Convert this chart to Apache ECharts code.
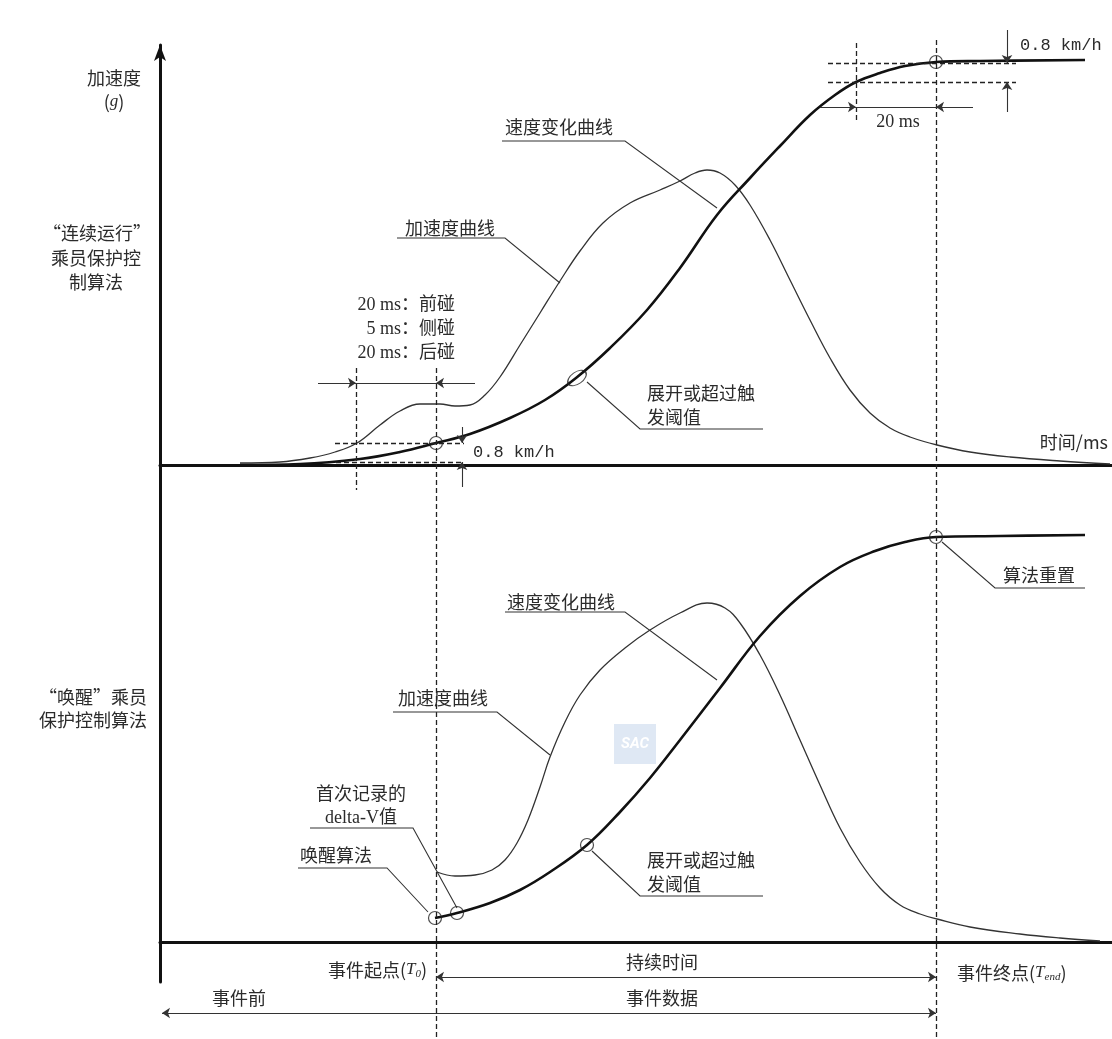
<!DOCTYPE html>
<html>
<head>
<meta charset="utf-8">
<script src="https://cdn.jsdelivr.net/npm/echarts@6/dist/echarts.min.js"></script>
<style>
html, body { margin: 0; padding: 0; background: #fff; }
#main { width: 1112px; height: 1039px; }
</style>
</head>
<body>
<div id="main"></div>
<script>
// 时间 (ms)
const T0 = 69
const TEND = 194
const PRE = 20

// 上图：“连续运行”乘员保护控制算法
const topAccTime = [20, 30, 37.5, 43.75, 49.25, 55, 60, 65, 70, 73.75, 77.5, 81.25, 85, 90, 95, 100, 105, 110.75, 117.5, 125, 130, 133.75, 136.75, 140, 143.75, 147.5, 152.5, 157.5, 162.5, 167.5, 172.5, 177.5, 182.5, 187.5, 194.25, 202.5, 212.5, 225, 237.5]
const topAccVal = [0.5, 0.75, 1.75, 3.25, 5.5, 10, 13.5, 15.25, 15.25, 14.75, 15, 17.5, 22, 30, 38, 46, 53.5, 60.5, 65.5, 68.75, 71, 73, 73.75, 73, 70, 65, 56.25, 46.25, 36.25, 26.75, 18.75, 13, 9.25, 7, 5, 3.25, 2, 1, 0.25]
const topVelTime = [20, 35, 50, 60, 69, 77.5, 87.5, 96.25, 104, 112.5, 121.75, 130, 139.25, 147.5, 155, 162.5, 168.75, 174, 180, 186.25, 194, 205, 231.25]
const topVelVal = [0, 0.25, 1.5, 3.25, 5.5, 7.75, 11.75, 16.25, 21.75, 29.25, 38.75, 49.25, 62.5, 71.75, 79.75, 87.5, 92.5, 95.75, 98, 99.75, 100.75, 101, 101.25]

// 下图：“唤醒”乘员保护控制算法
const botAccTime = [69.25, 73.75, 78.75, 83, 86.25, 89.25, 92, 95, 97.5, 101.25, 105, 110, 116.25, 122.5, 130, 136.75, 141.25, 145, 150, 155, 160, 165, 170, 175, 180, 185, 190, 194.25, 202.5, 215, 225, 235]
const botAccVal = [17.5, 16.5, 16.75, 18, 20.5, 24.75, 30.5, 38.75, 46.25, 55, 61.75, 68, 73.5, 78, 82.25, 84.75, 83.5, 79.75, 71.75, 61.75, 50.5, 39.25, 28.5, 20, 13.5, 9.25, 7, 5.75, 3.75, 2, 1, 0.25]
const botVelTime = [68.75, 74.25, 82.5, 90, 97.5, 106.75, 115, 122.5, 130, 140, 150, 160, 170, 178.75, 186.25, 194, 210, 231.25]
const botVelVal = [6, 7.25, 9.75, 13, 17.5, 24.25, 32.5, 41, 50.5, 63.5, 76.5, 86.5, 93.75, 97.75, 100, 101.25, 101.5, 101.75]

// 标记点 (时间, 值)
const topMarks = [[T0, 5.5], [TEND, 100.75]]
const topEllipse = [[104.25, 21.75]]
const botMarks = [[68.75, 6], [74.25, 7.25], [106.75, 24.25], [TEND, 101.25]]

const zip = (a, b) => a.map((t, i) => [t, b[i]])

const ink = '#222'
const txtColor = '#2b2b2b'
const cjk = '"Noto Sans CJK SC", "Noto Sans", sans-serif'
const serif = '"Liberation Serif", "Noto Sans CJK SC", serif'
const mono = '"Liberation Mono", "DejaVu Sans Mono", monospace'

function seg(a, b) {
  return { coords: [a, b] }
}

function lines(grid, data, style, extra) {
  return Object.assign({
    type: 'lines',
    coordinateSystem: 'cartesian2d',
    xAxisIndex: grid,
    yAxisIndex: grid,
    clip: false,
    silent: true,
    z: 5,
    symbol: 'none',
    lineStyle: style,
    data: data
  }, extra || {})
}

const dashed = { color: ink, width: 1.3, type: [5, 3], opacity: 1 }
const thin = { color: '#333', width: 1.1, opacity: 1 }
const arrowOne = { symbol: ['none', 'arrow'], symbolSize: 8 }
const arrowTwo = { symbol: ['arrow', 'arrow'], symbolSize: 8 }

function txt(text, x, y, align, extra) {
  return {
    type: 'text',
    x: x,
    y: y,
    z: 20,
    style: Object.assign({
      text: text,
      fill: txtColor,
      fontSize: 18,
      fontFamily: cjk,
      textAlign: align || 'left',
      textVerticalAlign: 'middle'
    }, extra || {})
  }
}

const subRich = {
  a: { fontSize: 18, fontFamily: cjk, fill: txtColor },
  i: { fontSize: 17, fontFamily: serif, fontStyle: 'italic', fill: txtColor },
  s: { fontSize: 11, fontFamily: serif, fontStyle: 'italic', fill: txtColor, verticalAlign: 'bottom', padding: [8, 0, 0, 0] }
}

const myChart = echarts.init(document.getElementById('main'), null, { renderer: 'canvas' })

const axisX = (g) => ({
  gridIndex: g, type: 'value', min: 0, max: 238,
  axisLine: { lineStyle: { color: '#111', width: 3 } },
  axisTick: { show: false }, axisLabel: { show: false }, splitLine: { show: false }
})

const options = {
  backgroundColor: '#fff',
  animation: false,
  grid: [
    { left: 160, right: 0, top: 45, height: 420 },
    { left: 160, right: 0, top: 462, height: 520 }
  ],
  xAxis: [axisX(0), axisX(1)],
  yAxis: [
    {
      gridIndex: 0, type: 'value', min: 0, max: 105,
      axisLine: { show: true, symbol: ['none', 'arrow'], symbolSize: [9, 16], lineStyle: { color: '#111', width: 3 } },
      axisTick: { show: false }, axisLabel: { show: false }, splitLine: { show: false }
    },
    {
      gridIndex: 1, type: 'value', min: -10, max: 120,
      axisLine: { show: true, lineStyle: { color: '#111', width: 3 } },
      axisTick: { show: false }, axisLabel: { show: false }, splitLine: { show: false }
    }
  ],
  series: [
    // 曲线
    { type: 'line', xAxisIndex: 0, yAxisIndex: 0, data: zip(topAccTime, topAccVal), smooth: 0.4, showSymbol: false, lineStyle: { color: '#333', width: 1.3 }, z: 3 },
    { type: 'line', xAxisIndex: 0, yAxisIndex: 0, data: zip(topVelTime, topVelVal), smooth: 0.4, showSymbol: false, lineStyle: { color: '#111', width: 2.6 }, z: 4 },
    { type: 'line', xAxisIndex: 1, yAxisIndex: 1, data: zip(botAccTime, botAccVal), smooth: 0.4, showSymbol: false, lineStyle: { color: '#333', width: 1.3 }, z: 3 },
    { type: 'line', xAxisIndex: 1, yAxisIndex: 1, data: zip(botVelTime, botVelVal), smooth: 0.4, showSymbol: false, lineStyle: { color: '#111', width: 2.6 }, z: 4 },

    // 虚线
    lines(0, [
      seg([T0 - PRE, 24.25], [T0 - PRE, -6.25]),
      seg([TEND - PRE, 105.5], [TEND - PRE, 86.25]),
      seg([43.75, 5.5], [76, 5.5]),
      seg([44, 0.75], [76, 0.75]),
      seg([167, 100.5], [214, 100.5]),
      seg([167, 95.75], [214, 95.75])
    ], dashed),
    lines(1, [
      seg([T0, 143.5], [T0, -24.25]),
      seg([TEND, 225.5], [TEND, -24.25])
    ], dashed),

    // 尺寸线
    lines(0, [
      seg([T0 - PRE, 20.5], [T0, 20.5]),
      seg([TEND - PRE, 89.5], [TEND, 89.5])
    ], thin),
    lines(0, [
      seg([39.5, 20.5], [T0 - PRE, 20.5]),
      seg([78.75, 20.5], [T0, 20.5]),
      seg([75.5, 9.5], [75.5, 5.5]),
      seg([75.5, -5.5], [75.5, 0.75]),
      seg([211.75, 108.75], [211.75, 100.5]),
      seg([211.75, 88.25], [211.75, 95.75]),
      seg([165, 89.5], [TEND - PRE, 89.5]),
      seg([203.25, 89.5], [TEND, 89.5])
    ], thin, arrowOne),
    lines(1, [
      seg([T0, -8.75], [TEND, -8.75]),
      seg([0.5, -17.75], [TEND, -17.75])
    ], thin, arrowTwo),

    // 引线
    lines(0, [
      { coords: [[85.5, 81], [116.25, 81], [139.25, 64.25]] },
      { coords: [[59.25, 56.75], [86.25, 56.75], [100, 45.5]] },
      { coords: [[150.75, 9], [120, 9], [106.75, 20.75]] }
    ], thin, { polyline: true }),
    lines(1, [
      { coords: [[231.25, 88.5], [208.75, 88.5], [195.5, 100]] },
      { coords: [[86.25, 82.5], [116.25, 82.5], [139.25, 65.5]] },
      { coords: [[58.25, 57.5], [84.25, 57.5], [97.5, 46.75]] },
      { coords: [[37.5, 28.5], [63.25, 28.5], [74.25, 8.5]] },
      { coords: [[34.5, 18.5], [56.75, 18.5], [67, 7.5]] },
      { coords: [[150.75, 11.5], [120, 11.5], [108, 22.75]] }
    ], thin, { polyline: true }),

    // 圆圈
    { type: 'scatter', xAxisIndex: 0, yAxisIndex: 0, data: topMarks, symbol: 'circle', symbolSize: 13, clip: false, z: 10, itemStyle: { color: 'rgba(255,255,255,0)', borderColor: ink, borderWidth: 1.2 } },
    { type: 'scatter', xAxisIndex: 0, yAxisIndex: 0, data: topEllipse, symbol: 'circle', symbolSize: [21, 12], symbolRotate: 35, clip: false, z: 10, itemStyle: { color: 'rgba(255,255,255,0)', borderColor: ink, borderWidth: 1.2 } },
    { type: 'scatter', xAxisIndex: 1, yAxisIndex: 1, data: botMarks, symbol: 'circle', symbolSize: 13, clip: false, z: 10, itemStyle: { color: 'rgba(255,255,255,0)', borderColor: ink, borderWidth: 1.2 } }
  ],
  graphic: [
    // 左侧标题
    txt('加速度', 114, 78, 'center'),
    txt('{a|(}{i|g}{a|)}', 114, 102, 'center', { rich: subRich }),
    txt('“连续运行”', 97, 233, 'center'),
    txt('乘员保护控', 96, 258, 'center'),
    txt('制算法', 96, 282, 'center'),
    txt('“唤醒”乘员', 147, 697, 'right'),
    txt('保护控制算法', 147, 720, 'right'),

    // 上图
    txt('0.8 km/h', 1020, 45, 'left', { fontFamily: mono, fontSize: 17 }),
    txt('20 ms', 898, 122, 'center', { fontFamily: serif, fontSize: 18 }),
    txt('速度变化曲线', 505, 127),
    txt('加速度曲线', 405, 228),
    txt('20 ms：前碰', 455, 305, 'right', { fontFamily: serif, fontSize: 18 }),
    txt('5 ms：侧碰', 455, 329, 'right', { fontFamily: serif, fontSize: 18 }),
    txt('20 ms：后碰', 455, 353, 'right', { fontFamily: serif, fontSize: 18 }),
    txt('展开或超过触', 647, 393),
    txt('发阈值', 647, 417),
    txt('0.8 km/h', 473, 452, 'left', { fontFamily: mono, fontSize: 17 }),
    txt('时间/ms', 1108, 442, 'right'),

    // 下图
    txt('算法重置', 1003, 575),
    txt('速度变化曲线', 507, 602),
    txt('加速度曲线', 398, 698),
    txt('首次记录的', 361, 793, 'center'),
    txt('delta-V值', 361, 818, 'center', { fontFamily: serif, fontSize: 18 }),
    txt('唤醒算法', 300, 855),
    txt('展开或超过触', 647, 860),
    txt('发阈值', 647, 884),
    txt('事件起点({i|T}{s|0})', 427, 970, 'right', { rich: subRich }),
    txt('持续时间', 662, 962, 'center'),
    txt('事件数据', 662, 998, 'center'),
    txt('事件前', 212, 998),
    txt('事件终点({i|T}{s|end})', 957, 973, 'left', { rich: subRich }),

    // 水印
    {
      type: 'group', x: 614, y: 724, z: 1,
      children: [
        { type: 'rect', shape: { x: 0, y: 0, width: 42, height: 40 }, style: { fill: '#dfe8f4' } },
        { type: 'text', x: 21, y: 20, style: { text: 'SAC', fill: '#fff', fontSize: 15, fontWeight: 'bold', fontStyle: 'italic', fontFamily: 'Roboto', textAlign: 'center', textVerticalAlign: 'middle' } }
      ]
    }
  ]
}

myChart.setOption(options)
</script>
</body>
</html>
